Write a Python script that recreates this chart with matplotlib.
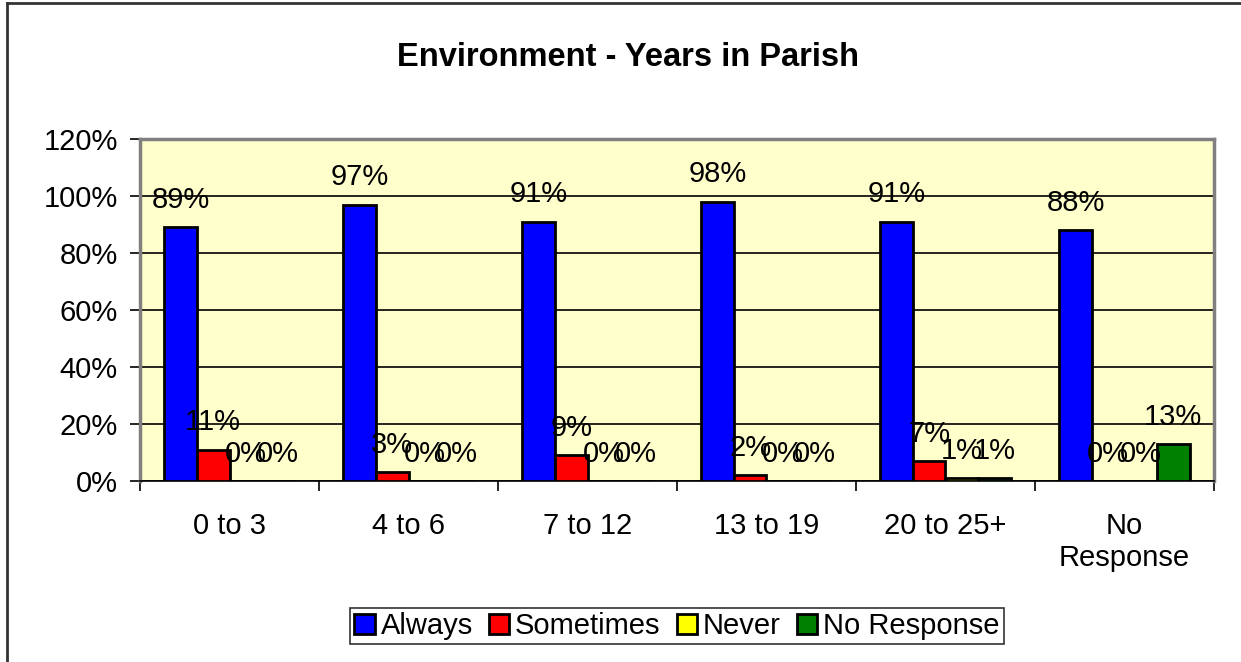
import matplotlib
matplotlib.use("Agg")
import matplotlib.pyplot as plt
import numpy as np
from matplotlib.lines import Line2D

plt.rcParams['font.family'] = ['Liberation Sans', 'DejaVu Sans']

categories = ["0 to 3", "4 to 6", "7 to 12", "13 to 19", "20 to 25+", "No\nResponse"]
series_names = ["Always", "Sometimes", "Never", "No Response"]
always = [89, 97, 91, 98, 91, 88]
sometimes = [11, 3, 9, 2, 7, 0]
never = [0, 0, 0, 0, 1, 0]
no_response = [0, 0, 0, 0, 1, 13]
colors = ["#0000FF", "#FF0000", "#FFFF00", "#008000"]
yticks = [0, 20, 40, 60, 80, 100, 120]

W, H = 1241, 662
fig = plt.figure(figsize=(W / 100, H / 100), dpi=100)
fig.patch.set_facecolor("white")
# outer chart border (left and top visible)
fig.add_artist(Line2D([7 / W, 7 / W], [0, 1 - 3 / H], transform=fig.transFigure,
                      color="#333333", linewidth=2))
fig.add_artist(Line2D([7 / W, 1], [1 - 3 / H, 1 - 3 / H], transform=fig.transFigure,
                      color="#333333", linewidth=2))

ax = fig.add_axes([140 / W, 1 - 481 / H, (1214 - 140) / W, (481 - 139) / H])
ax.set_facecolor("#FFFFCC")

x = np.arange(len(categories))
w = 0.182
data = [always, sometimes, never, no_response]
for i, (vals, c, name) in enumerate(zip(data, colors, series_names)):
    pos = x + (i - 1.5) * w
    ax.bar(pos, vals, width=w, color=c, edgecolor="black", linewidth=2, label=name, zorder=3)
    for px, v in zip(pos, vals):
        ax.annotate(f"{v}%", (px, v), xytext=(0, 14), textcoords="offset points",
                    ha="center", va="baseline", fontsize=21, zorder=4)

ax.set_xlim(-0.5, len(categories) - 0.5)
ax.set_ylim(0, 120)
ax.set_yticks(yticks)
ax.set_yticklabels([f"{t}%" for t in yticks], fontsize=21)
ax.yaxis.grid(True, color="black", linewidth=1.2)
ax.set_axisbelow(True)
ax.set_xticks(x)
ax.set_xticklabels(categories, fontsize=21, linespacing=1.2)
ax.tick_params(axis="x", length=0, pad=22)
ax.set_xticks(np.arange(-0.5, len(categories)), minor=True)
ax.tick_params(axis="x", which="minor", length=7, width=1.2, color="black")
ax.tick_params(axis="y", length=7, width=1.2, pad=9, color="black")

for s in ["top", "right", "left"]:
    ax.spines[s].set_color("#808080")
    ax.spines[s].set_linewidth(2.5)
ax.spines["bottom"].set_color("black")
ax.spines["bottom"].set_linewidth(1.2)

fig.text(628 / W, 1 - 58 / H, "Environment - Years in Parish", ha="center", va="center",
         fontsize=23.5, fontweight="bold")

leg = fig.legend(loc="center", bbox_to_anchor=(677 / W, 1 - 626 / H), ncol=4, fontsize=21,
                 frameon=True, fancybox=False, edgecolor="black", handlelength=0.7,
                 handleheight=0.7, handletextpad=0.2, columnspacing=0.55, borderpad=0.15,
                 borderaxespad=0)
leg.get_frame().set_linewidth(1.2)

fig.savefig("out.png", dpi=100)
